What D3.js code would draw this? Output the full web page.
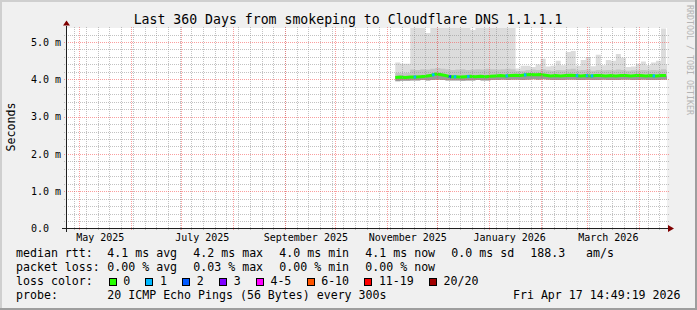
<!DOCTYPE html>
<html>
<head>
<meta charset="utf-8">
<script src="https://cdn.jsdelivr.net/npm/d3@7"></script>
<style>
  body { margin: 0; background: #f0f0f0; }
  svg text { font-family: "DejaVu Sans Mono", monospace; fill: #000; }
</style>
</head>
<body>
<div id="chart"></div>
<script>
// smokeping samples, one bin every 3 days (ms)
const binDates = [
  "2025-11-06", "2025-11-09", "2025-11-12", "2025-11-15", "2025-11-18", "2025-11-21", "2025-11-24", "2025-11-27", "2025-11-30",
  "2025-12-03", "2025-12-06", "2025-12-09", "2025-12-12", "2025-12-15", "2025-12-18", "2025-12-21", "2025-12-24", "2025-12-27", "2025-12-30",
  "2026-01-02", "2026-01-05", "2026-01-08", "2026-01-11", "2026-01-14", "2026-01-17", "2026-01-20", "2026-01-23", "2026-01-26", "2026-01-29",
  "2026-02-01", "2026-02-04", "2026-02-07", "2026-02-10", "2026-02-13", "2026-02-16", "2026-02-19", "2026-02-22", "2026-02-25", "2026-02-28",
  "2026-03-03", "2026-03-06", "2026-03-09", "2026-03-12", "2026-03-15", "2026-03-18", "2026-03-21", "2026-03-24", "2026-03-27", "2026-03-30",
  "2026-04-02", "2026-04-05", "2026-04-08", "2026-04-11", "2026-04-14", "2026-04-17"
];
const pingMax = [
  4.45, 4.42, 4.42, 5.5, 5.5, 5.5, 5.24, 5.5, 5.5, 5.5, 5.5, 5.5, 5.5, 5.5, 5.5, 5.32, 5.5, 5.5, 5.5, 5.5, 5.5, 5.5, 5.5, 5.5,
  4.29, 4.36, 4.36, 4.33, 4.40, 4.55, 4.34, 4.36, 4.50, 4.38, 4.73, 4.76, 4.36, 4.52, 4.60, 4.35, 4.66, 4.38, 4.52, 4.50,
  4.68, 4.58, 4.33, 4.34, 4.42, 4.48, 4.38, 4.45, 4.50, 5.36, 4.40
];
const pingUpper = [
  4.17, 4.16, 4.17,
  4.26, 4.25, 4.27, 4.26, 4.28, 4.30, 4.28, 4.27, 4.25, 4.26, 4.27, 4.25, 4.26, 4.27, 4.26, 4.28, 4.27, 4.26, 4.27, 4.28, 4.27,
  4.22, 4.23, 4.25, 4.26, 4.25, 4.27, 4.24, 4.23, 4.25, 4.24, 4.27, 4.28, 4.24, 4.25, 4.26, 4.23, 4.25, 4.24, 4.25, 4.24,
  4.26, 4.25, 4.23, 4.24, 4.24, 4.25, 4.24, 4.25, 4.24, 4.27, 4.24
];
const pingLower = [
  3.95, 3.96, 3.96, 3.97, 3.97, 3.98, 3.97, 3.98, 3.99, 3.98, 3.97, 3.97, 3.97, 3.96, 3.97, 3.97, 3.98, 3.97, 3.97,
  3.98, 3.98, 3.99, 3.98, 3.99, 3.99, 3.98, 3.99, 4.00, 3.99, 4.00, 3.99, 3.98, 3.98, 3.98, 3.99, 3.99, 3.98, 3.98,
  3.99, 3.98, 3.98, 3.99, 3.98, 3.98, 3.98, 3.99, 3.99, 3.98, 3.98, 3.99, 3.98, 3.98, 3.98, 3.99, 3.99
];
const medianRtt = [
  4.05, 4.06, 4.05, 4.06, 4.06, 4.07, 4.08, 4.10, 4.14, 4.13, 4.10, 4.07, 4.07, 4.06, 4.07, 4.08, 4.07, 4.08, 4.07,
  4.08, 4.09, 4.10, 4.09, 4.10, 4.11, 4.10, 4.12, 4.13, 4.12, 4.13, 4.11, 4.09, 4.10, 4.09, 4.10, 4.11, 4.10, 4.09,
  4.10, 4.09, 4.10, 4.10, 4.09, 4.10, 4.09, 4.10, 4.10, 4.09, 4.10, 4.10, 4.09, 4.10, 4.09, 4.10, 4.10
];
// days with packet loss (number of lost pings)
const lossDates = ["2025-11-17", "2025-11-28", "2025-12-08", "2025-12-11", "2025-12-19", "2026-01-11",
  "2026-01-22", "2026-02-22", "2026-02-28", "2026-03-03", "2026-04-09"];
const lossCounts = [1, 1, 2, 1, 1, 1, 1, 1, 1, 1, 1];

const lossLabels = ["0", "1", "2", "3", "4-5", "6-10", "11-19", "20/20"];
const lossColors = ["#26ff00", "#00b8ff", "#0059ff", "#7e00ff", "#ff00ff", "#ff5500", "#ff0000", "#a10000"];

const rttStats = [["4.1", "avg"], ["4.2", "max"], ["4.0", "min"], ["4.1", "now"], ["0.0", "sd"]];
const lossStats = [["0.00", "avg"], ["0.03", "max"], ["0.00", "min"], ["0.00", "now"]];
const amPerS = "188.3";
const yTicks = [0, 1, 2, 3, 4, 5];

const W = 697, H = 310;
const x0 = 67, x1 = 667, yTop = 28.5, yBot = 228.5;

const svg = d3.select("div#chart").append("svg")
    .attr("width", W)
    .attr("height", H)
    .attr("viewBox", "0 0 " + W + " " + H);

// background + 3d frame
svg.append("rect").attr("width", W).attr("height", H).attr("fill", "#f0f0f0");
svg.append("path").attr("d", "M0,0H" + W + "V2H2V" + H + "H0Z").attr("fill", "#cfcfcf");
svg.append("path").attr("d", "M" + W + "," + H + "H0V" + (H - 2) + "H" + (W - 2) + "V0H" + W + "Z").attr("fill", "#9e9e9e");

// canvas
svg.append("rect").attr("x", x0).attr("y", yTop - 0.5).attr("width", x1 - x0).attr("height", yBot - yTop)
    .attr("fill", "#ffffff");

const parse = d3.utcParse("%Y-%m-%d");
const dates = binDates.map(parse);
const endTime = new Date(Date.UTC(2026, 3, 17, 14, 49, 19));

const x = d3.scaleUtc()
    .domain([new Date(Date.UTC(2025, 3, 23, 14, 0)), endTime])
    .range([x0, x1]);
const y = d3.scaleLinear()
    .domain([0, 200 / 37.3])
    .range([yBot, yTop]);

svg.append("clipPath").attr("id", "clip")
    .append("rect").attr("x", x0).attr("y", yTop - 0.5).attr("width", x1 - x0).attr("height", yBot - yTop);

const g = svg.append("g").attr("clip-path", "url(#clip)");

// rows: extend last bin to the end of the graph
const rows = dates.map((d, i) => ({ t: d, max: pingMax[i], up: pingUpper[i], lo: pingLower[i], med: medianRtt[i] }));
rows.push(Object.assign({}, rows[rows.length - 1], { t: endTime }));

function band(lo, hi) {
    return d3.area()
        .x(d => x(d.t))
        .y0(d => y(d[lo]))
        .y1(d => y(d[hi]))
        .curve(d3.curveStepAfter);
}

// smoke
g.append("path").datum(rows).attr("d", band("lo", "max")).attr("fill", "#dcdcdc");
g.append("path").datum(rows).attr("d", band("med", "up")).attr("fill", "#c4c4c4");
g.append("path").datum(rows).attr("d", band("lo", "med")).attr("fill", "#9a9a9a");

// median line
const medLine = d3.line().x(d => x(d.t)).y(d => y(d.med));
g.append("path").datum(rows.slice(0, dates.length))
    .attr("d", medLine)
    .attr("fill", "none")
    .attr("stroke", lossColors[0])
    .attr("stroke-width", 3);

// loss colored pieces of the median line
const medAt = t => {
    const i = Math.max(0, Math.min(dates.length - 2, d3.bisectRight(dates, t) - 1));
    const f = (t - dates[i]) / (dates[i + 1] - dates[i]);
    return medianRtt[i] + f * (medianRtt[i + 1] - medianRtt[i]);
};
lossDates.forEach((s, i) => {
    const t = parse(s);
    const t2 = d3.utcHour.offset(t, 36);
    g.append("line")
        .attr("x1", x(t)).attr("x2", x(t2))
        .attr("y1", y(medAt(t))).attr("y2", y(medAt(t2)))
        .attr("stroke", lossColors[lossCounts[i]])
        .attr("stroke-width", 3);
});

// grid on top
const grid = svg.append("g").attr("shape-rendering", "crispEdges").attr("stroke-dasharray", "1,1");
const minorColor = "rgba(143,143,143,0.55)";
const majorColor = "rgba(245,79,79,0.55)";
const px = v => Math.round(v) + 0.5;

d3.range(0.2, 5.3, 0.2).filter(v => Math.abs(v - Math.round(v)) > 0.01).forEach(v => {
    grid.append("line").attr("x1", x0 - 3).attr("x2", x1 + 2)
        .attr("y1", px(y(v))).attr("y2", px(y(v))).attr("stroke", minorColor);
});
x.ticks(d3.utcMonday).forEach(t => {
    grid.append("line").attr("x1", px(x(t))).attr("x2", px(x(t)))
        .attr("y1", yTop - 2).attr("y2", yBot + 2).attr("stroke", minorColor);
});
yTicks.filter(v => v > 0).forEach(v => {
    grid.append("line").attr("x1", x0 - 3).attr("x2", x1 + 2)
        .attr("y1", px(y(v))).attr("y2", px(y(v))).attr("stroke", majorColor);
});
x.ticks(d3.utcMonth).forEach(t => {
    grid.append("line").attr("x1", px(x(t))).attr("x2", px(x(t)))
        .attr("y1", yTop - 2).attr("y2", yBot + 2).attr("stroke", majorColor);
});

// axes
svg.append("line").attr("x1", x0 - 5).attr("x2", x1 + 2).attr("y1", yBot).attr("y2", yBot)
    .attr("stroke", "#1f1f1f").attr("shape-rendering", "crispEdges");
svg.append("line").attr("x1", x0 - 0.5).attr("x2", x0 - 0.5).attr("y1", yBot + 3).attr("y2", yTop - 3)
    .attr("stroke", "#1f1f1f").attr("shape-rendering", "crispEdges");
svg.append("path").attr("d", "M" + (x1 + 1) + "," + (yBot - 3.5) + "L" + (x1 + 7) + "," + yBot + "L" + (x1 + 1) + "," + (yBot + 3.5) + "Z")
    .attr("fill", "#7f0000");
svg.append("path").attr("d", "M" + (x0 - 4) + "," + (yTop - 3) + "L" + (x0 - 0.5) + "," + (yTop - 8) + "L" + (x0 + 3) + "," + (yTop - 3) + "Z")
    .attr("fill", "#7f0000");

// y labels ("0.0" keeps the room of the unit)
svg.append("g").selectAll("text").data(yTicks).join("text")
    .attr("x", d => d === 0 ? 49 : 61)
    .attr("y", d => y(d))
    .attr("dy", "0.36em")
    .attr("text-anchor", "end")
    .attr("font-size", 10)
    .text(d => d === 0 ? "0.0" : d3.format(".1f")(d) + " m");

// x labels, every second month
const fmtMonth = d3.utcFormat("%B %Y");
svg.append("g").selectAll("text").data(x.ticks(d3.utcMonth.every(2))).join("text")
    .attr("x", d => x(d3.utcHour.offset(d, 300)))
    .attr("y", 241)
    .attr("text-anchor", "middle")
    .attr("font-size", 10)
    .text(fmtMonth);

// title
svg.append("text").attr("x", 348).attr("y", 23.5).attr("text-anchor", "middle")
    .attr("font-size", 13.2)
    .text("Last 360 Days from smokeping to Cloudflare DNS 1.1.1.1");

// y title
svg.append("text").attr("transform", "translate(14.5,127) rotate(-90)")
    .attr("text-anchor", "middle").attr("font-size", 11.6)
    .text("Seconds");

// watermark
svg.append("text").attr("transform", "translate(687,5) rotate(90)")
    .attr("font-size", 8.3).style("fill", "#b4b4b4")
    .text("RRDTOOL / TOBI OETIKER");

// legend
const legend = svg.append("g").attr("font-size", 11.6);
const rowY = [257.3, 271.1, 285, 298.9];
const colX = i => 107.3 + 86 * i;

legend.append("text").attr("x", 16).attr("y", rowY[0]).text("median rtt:");
rttStats.forEach((s, i) => {
    legend.append("text").attr("x", colX(i)).attr("y", rowY[0])
        .text(s[0] + " ms " + s[1]);
});
legend.append("text").attr("x", 530.3).attr("y", rowY[0]).text(amPerS);
legend.append("text").attr("x", 586).attr("y", rowY[0]).text("am/s");

legend.append("text").attr("x", 16).attr("y", rowY[1]).text("packet loss:");
lossStats.forEach((s, i) => {
    legend.append("text").attr("x", colX(i)).attr("y", rowY[1])
        .text(s[0] + " % " + s[1]);
});

legend.append("text").attr("x", 16).attr("y", rowY[2]).text("loss color:");
let cx = 108.7;
lossLabels.forEach((lab, i) => {
    legend.append("rect").attr("x", cx + 0.5).attr("y", rowY[2] - 6.5).attr("width", 7).attr("height", 7)
        .attr("fill", lossColors[i]).attr("stroke", "#000").attr("stroke-width", 1)
        .attr("shape-rendering", "crispEdges");
    legend.append("text").attr("x", cx + 14.6).attr("y", rowY[2]).text(lab);
    cx += 29.8 + 6.98 * lab.length;
});

legend.append("text").attr("x", 16).attr("y", rowY[3]).text("probe:");
legend.append("text").attr("x", 107.3).attr("y", rowY[3]).text("20 ICMP Echo Pings (56 Bytes) every 300s");
legend.append("text").attr("x", 680.5).attr("y", rowY[3]).attr("text-anchor", "end").text("Fri Apr 17 14:49:19 2026");
</script>
</body>
</html>
